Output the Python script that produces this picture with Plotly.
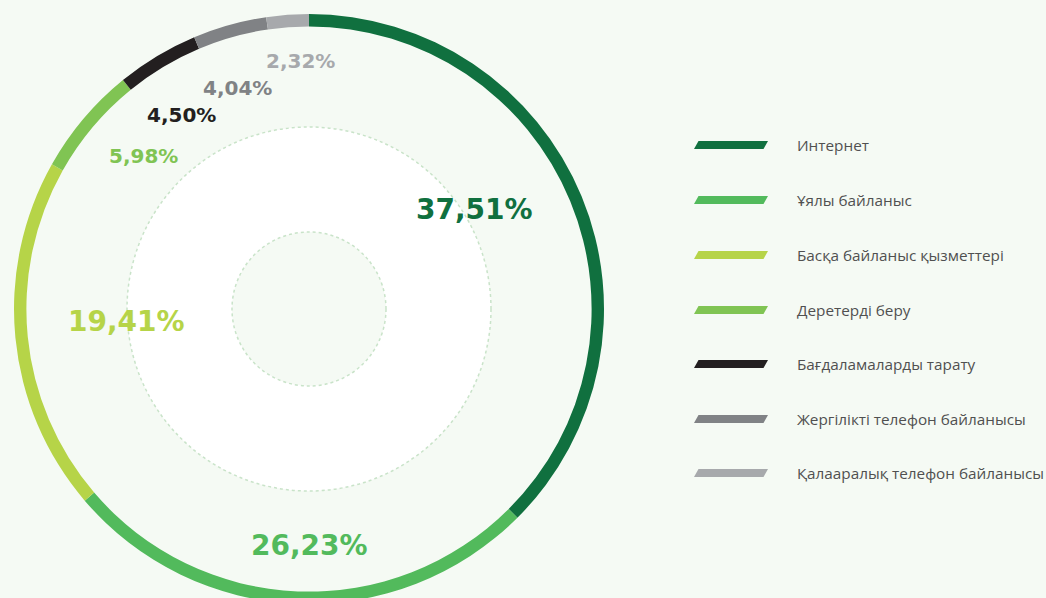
import plotly.graph_objects as go

labels = ["Интернет", "Ұялы байланыс", "Басқа байланыс қызметтері", "Деретерді беру",
          "Бағдаламаларды тарату", "Жергілікті телефон байланысы", "Қалааралық телефон байланысы"]
values = [37.51, 26.23, 19.41, 5.98, 4.50, 4.04, 2.32]
colors = ["#10703F", "#52BA5C", "#B6D448", "#80C453", "#231F20", "#808285", "#A7A9AC"]
value_text = ["37,51%", "26,23%", "19,41%", "5,98%", "4,50%", "4,04%", "2,32%"]

W, H = 1046, 620
BG = "#F5FAF4"

def px(x):
    return x / W

def py(y):
    return 1 - y / H

cx, cy, R = 309, 309, 295

fig = go.Figure()
fig.add_trace(go.Pie(
    labels=labels, values=values, sort=False, direction="clockwise", rotation=0,
    hole=0.958, marker=dict(colors=colors, line=dict(width=0)),
    textinfo="none", hoverinfo="label+percent", showlegend=False,
    domain=dict(x=[px(cx - R), px(cx + R)], y=[py(cy + R), py(cy - R)]),
))

shapes = []
# inner white circle
r1 = 182
shapes.append(dict(type="circle", xref="paper", yref="paper",
                   x0=px(cx - r1), x1=px(cx + r1), y0=py(cy + r1), y1=py(cy - r1),
                   fillcolor="#FFFFFF", line=dict(color="#C9E3C9", width=1.5, dash="dot"), layer="below"))
r2 = 77
shapes.append(dict(type="circle", xref="paper", yref="paper",
                   x0=px(cx - r2), x1=px(cx + r2), y0=py(cy + r2), y1=py(cy - r2),
                   fillcolor=BG, line=dict(color="#C9E3C9", width=1.5, dash="dot"), layer="below"))

annotations = []
# percentage labels
label_pos = [(474, 210, 28), (309, 545, 28), (126, 321, 28), (143, 156, 20),
             (181, 115, 20), (237, 88, 20), (300, 61, 20)]
for t, c, (x, y, s) in zip(value_text, colors, label_pos):
    annotations.append(dict(x=px(x), y=py(y), xref="paper", yref="paper", text=f"<b>{t}</b>",
                            showarrow=False, xanchor="center", yanchor="middle",
                            font=dict(family="DejaVu Sans", size=s, color=c)))

# custom legend
leg_y = [145, 200, 255, 310, 364, 419, 473]
for lab, c, y in zip(labels, colors, leg_y):
    x0, x1, h, sl = 694, 768, 8, 4.5
    path = (f"M {px(x0)} {py(y + h/2)} L {px(x0 + sl)} {py(y - h/2)} "
            f"L {px(x1)} {py(y - h/2)} L {px(x1 - sl)} {py(y + h/2)} Z")
    shapes.append(dict(type="path", xref="paper", yref="paper", path=path,
                       fillcolor=c, line=dict(width=0)))
    annotations.append(dict(x=px(795), y=py(y), xref="paper", yref="paper", text=lab,
                            showarrow=False, xanchor="left", yanchor="middle",
                            font=dict(family="Open Sans", size=15.3, color="#505050")))

fig.update_layout(
    width=W, height=H, margin=dict(l=0, r=0, t=0, b=0),
    paper_bgcolor=BG, plot_bgcolor=BG,
    shapes=shapes, annotations=annotations, showlegend=False,
)

fig.write_html("out.html", config={"displayModeBar": False},
               post_script="document.body.style.margin='0';document.body.style.overflow='hidden';document.documentElement.style.overflow='hidden';")
